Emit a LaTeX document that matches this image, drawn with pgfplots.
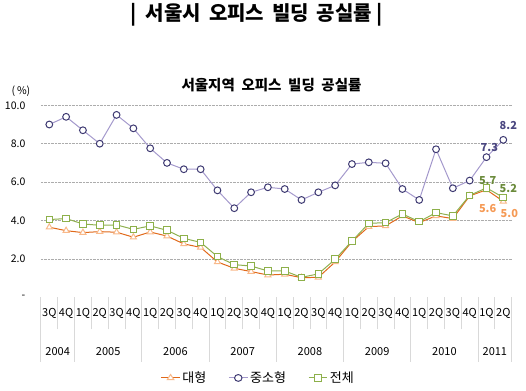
\documentclass[border=0pt]{standalone}
\usepackage{pgfplots}
\pgfplotsset{compat=1.18}
\usepackage{fontspec}
\setmainfont{Noto Sans CJK KR}
\definecolor{pline}{HTML}{A499CC}
\definecolor{pmark}{HTML}{3E3A72}
\definecolor{gline}{HTML}{8FB04F}
\definecolor{gmark}{HTML}{8DB04A}
\definecolor{oline}{HTML}{E0691A}
\definecolor{omark}{HTML}{F9B98A}
\definecolor{glab}{HTML}{6A8A3A}
\definecolor{olab}{HTML}{F59A55}
\definecolor{plab}{HTML}{4A4680}
\begin{document}
\begin{tikzpicture}
\begin{axis}[
  name=ax, scale only axis,
  width=470.8pt, height=192pt,
  xmin=-0.5, xmax=27.5, ymin=0, ymax=10,
  clip=false,
  axis line style={draw=none},
  xtick pos=bottom, ytick pos=left,
  ytick={2,4,6,8,10}, yticklabels={2.0,4.0,6.0,8.0,10.0},
  extra y ticks={0}, extra y tick labels={-}, extra y tick style={grid=none},
  ymajorgrids, grid style={densely dotted, gray!65, line width=0.8pt},
  major tick length=0pt,
  yticklabel style={font=\fontsize{10.5}{12}\selectfont, xshift=-12pt},
  xtick={0,...,27},
  xticklabels={3Q,4Q,1Q,2Q,3Q,4Q,1Q,2Q,3Q,4Q,1Q,2Q,3Q,4Q,1Q,2Q,3Q,4Q,1Q,2Q,3Q,4Q,1Q,2Q,3Q,4Q,1Q,2Q},
  xticklabel style={anchor=center, yshift=-16pt, font=\fontsize{11}{12}\selectfont},
  extra x ticks={-0.5,0.5,1.5,2.5,3.5,4.5,5.5,6.5,7.5,8.5,9.5,10.5,11.5,12.5,13.5,14.5,15.5,16.5,17.5,18.5,19.5,20.5,21.5,22.5,23.5,24.5,25.5,26.5,27.5},
  extra x tick labels={},
  extra x tick style={grid=none, major tick length=32pt, tick align=outside, tick style={draw=gray!30, line width=0.8pt}},
  legend style={at={(0.4616,-0.42)}, anchor=center, draw=none, fill=none, legend columns=3,
    font=\fontsize{13}{15}\selectfont, /tikz/every even column/.append style={column sep=20pt}},
  legend image post style={xscale=1.1},
]
\addplot[oline, line width=1pt, mark=triangle*, mark size=3.5pt, mark options={draw=omark, fill=white, solid}] coordinates {
(0,3.65)(1,3.47)(2,3.37)(3,3.42)(4,3.39)(5,3.13)(6,3.40)(7,3.19)(8,2.78)(9,2.60)
(10,1.84)(11,1.51)(12,1.34)(13,1.16)(14,1.20)(15,1.02)(16,1.04)(17,1.84)(18,2.90)(19,3.68)
(20,3.72)(21,4.24)(22,3.89)(23,4.24)(24,4.10)(25,5.28)(26,5.6)(27,5.0)};
\addlegendentry{대형}
\addplot[pline, line width=1pt, mark=*, mark size=3.4pt, mark options={draw=pmark, fill=white, solid}] coordinates {
(0,9.0)(1,9.4)(2,8.7)(3,8.0)(4,9.5)(5,8.8)(6,7.76)(7,7.0)(8,6.67)(9,6.67)
(10,5.57)(11,4.64)(12,5.47)(13,5.73)(14,5.64)(15,5.07)(16,5.47)(17,5.83)(18,6.94)(19,7.03)
(20,6.98)(21,5.64)(22,5.07)(23,7.71)(24,5.68)(25,6.08)(26,7.3)(27,8.2)};
\addlegendentry{중소형}
\addplot[gline, line width=1pt, mark=square*, mark size=3.3pt, mark options={draw=gmark, fill=white, solid}] coordinates {
(0,4.05)(1,4.10)(2,3.82)(3,3.75)(4,3.77)(5,3.54)(6,3.72)(7,3.49)(8,3.07)(9,2.86)
(10,2.12)(11,1.70)(12,1.63)(13,1.37)(14,1.37)(15,1.04)(16,1.22)(17,1.98)(18,2.93)(19,3.85)
(20,3.89)(21,4.34)(22,3.94)(23,4.41)(24,4.24)(25,5.31)(26,5.7)(27,5.2)};
\addlegendentry{전체}
\draw[gray!30, line width=0.8pt] (axis cs:-0.5,0) -- ++(0pt,-65pt);
\draw[gray!30, line width=0.8pt] (axis cs:1.5,0) -- ++(0pt,-65pt);
\draw[gray!30, line width=0.8pt] (axis cs:5.5,0) -- ++(0pt,-65pt);
\draw[gray!30, line width=0.8pt] (axis cs:9.5,0) -- ++(0pt,-65pt);
\draw[gray!30, line width=0.8pt] (axis cs:13.5,0) -- ++(0pt,-65pt);
\draw[gray!30, line width=0.8pt] (axis cs:17.5,0) -- ++(0pt,-65pt);
\draw[gray!30, line width=0.8pt] (axis cs:21.5,0) -- ++(0pt,-65pt);
\draw[gray!30, line width=0.8pt] (axis cs:25.5,0) -- ++(0pt,-65pt);
\draw[gray!30, line width=0.8pt] (axis cs:27.5,0) -- ++(0pt,-65pt);
\node[font=\fontsize{11}{12}\selectfont] at (axis cs:0.5,0) [yshift=-54pt] {2004};
\node[font=\fontsize{11}{12}\selectfont] at (axis cs:3.5,0) [yshift=-54pt] {2005};
\node[font=\fontsize{11}{12}\selectfont] at (axis cs:7.5,0) [yshift=-54pt] {2006};
\node[font=\fontsize{11}{12}\selectfont] at (axis cs:11.5,0) [yshift=-54pt] {2007};
\node[font=\fontsize{11}{12}\selectfont] at (axis cs:15.5,0) [yshift=-54pt] {2008};
\node[font=\fontsize{11}{12}\selectfont] at (axis cs:19.5,0) [yshift=-54pt] {2009};
\node[font=\fontsize{11}{12}\selectfont] at (axis cs:23.5,0) [yshift=-54pt] {2010};
\node[font=\fontsize{11}{12}\selectfont] at (axis cs:26.5,0) [yshift=-54pt] {2011};
\node[font=\fontsize{11}{13}\selectfont\bfseries, text=plab] at (axis cs:27.3,8.97) {8.2};
\node[font=\fontsize{11}{13}\selectfont\bfseries, text=plab] at (axis cs:26.17,7.78) {7.3};
\node[font=\fontsize{11}{13}\selectfont\bfseries, text=glab] at (axis cs:26.07,6.07) {5.7};
\node[font=\fontsize{11}{13}\selectfont\bfseries, text=glab] at (axis cs:27.3,5.69) {5.2};
\node[font=\fontsize{11}{13}\selectfont\bfseries, text=olab] at (axis cs:26.07,4.65) {5.6};
\node[font=\fontsize{11}{13}\selectfont\bfseries, text=olab] at (axis cs:27.36,4.39) {5.0};
\end{axis}
\node[font=\fontsize{20}{24}\selectfont\bfseries] at ([shift={(207.4pt,282.3pt)}]ax.origin) {|\ \ 서울시\ \,오피스\ \,빌딩\ \,공실률\ |};
\node[font=\fontsize{14.5}{17}\selectfont\bfseries] at ([shift={(222.2pt,212.3pt)}]ax.origin) {서울지역\ \ 오피스\ \ 빌딩\ \ 공실률};
\node[font=\fontsize{10.5}{12}\selectfont] at ([shift={(-28.3pt,206.3pt)}]ax.origin) {(\,\%)};
\pgfresetboundingbox
\path[use as bounding box] ([shift={(-49.3pt,-92.7pt)}]ax.origin) rectangle ([shift={(476.7pt,297.3pt)}]ax.origin);
\end{tikzpicture}
\end{document}
